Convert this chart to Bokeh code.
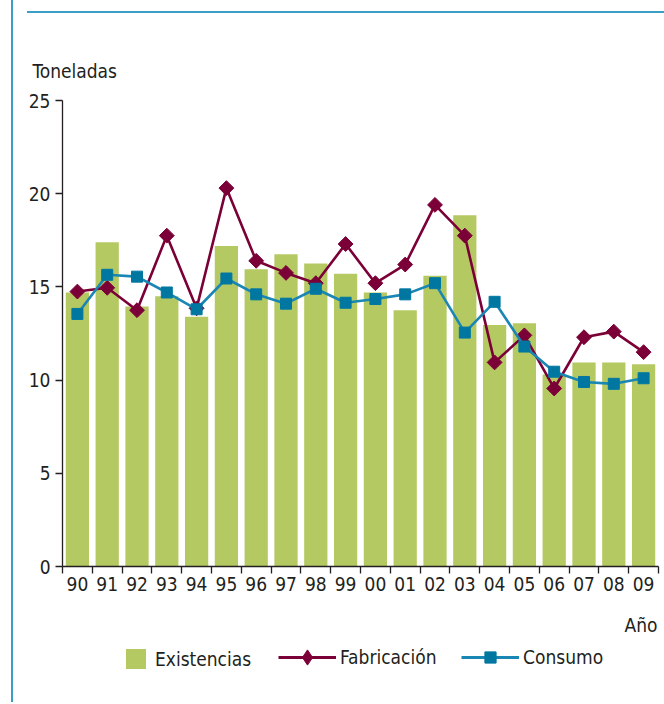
from bokeh.plotting import figure
from bokeh.models import (Range1d, FixedTicker, Label, Legend, LegendItem, Title,
                          ColumnDataSource, Spacer)
from bokeh.layouts import row, column
from bokeh.embed import file_html
from bokeh.resources import INLINE

# ---- data ----
years = ["90", "91", "92", "93", "94", "95", "96", "97", "98", "99",
         "00", "01", "02", "03", "04", "05", "06", "07", "08", "09"]
existencias = [14.7, 17.4, 13.95, 14.5, 13.4, 17.2, 15.95, 16.75, 16.25, 15.7,
               14.7, 13.75, 15.6, 18.85, 12.95, 13.05, 10.3, 10.95, 10.95, 10.85]
fabricacion = [14.75, 14.95, 13.75, 17.75, 13.85, 20.3, 16.4, 15.75, 15.2, 17.3,
               15.2, 16.2, 19.4, 17.75, 10.95, 12.4, 9.55, 12.3, 12.6, 11.5]
consumo = [13.55, 15.65, 15.55, 14.7, 13.8, 15.45, 14.6, 14.1, 14.9, 14.15,
           14.35, 14.6, 15.2, 12.55, 14.2, 11.8, 10.45, 9.9, 9.8, 10.1]
y_ticks = [0, 5, 10, 15, 20, 25]

FONT = "DejaVu Sans Condensed"
FS = "19px"
TXT = "#231f20"
GREEN = "#b5c962"
MAROON = "#7b0037"
TEAL_LINE = "#1a86b3"
TEAL_MARK = "#0077a1"
FRAME_TEAL = "#3b9ec6"

x = list(range(len(years)))
src = ColumnDataSource(dict(x=x, ex=existencias, fab=fabricacion, con=consumo))

PW = 649          # main figure width (page x 13 .. 662)
p = figure(width=PW, height=593, output_backend="svg", toolbar_location=None,
           x_range=Range1d(-0.5, len(years) - 0.5), y_range=Range1d(0, 25),
           min_border_left=49, min_border_right=4, min_border_top=87, min_border_bottom=40)
p.title = Title(text="Toneladas", align="left", offset=-30, standoff=37,
                text_font=FONT, text_font_size=FS, text_color=TXT,
                text_font_style="normal")
p.outline_line_color = None
p.xgrid.visible = False
p.ygrid.visible = False

p.vbar(x="x", top="ex", width=0.78, bottom=0, source=src,
       fill_color=GREEN, line_color=None)
p.line("x", "fab", source=src, line_color=MAROON, line_width=2.6)
p.scatter("x", "fab", source=src, marker="square", size=10.5, angle=0.785398,
          fill_color=MAROON, line_color=MAROON)
p.line("x", "con", source=src, line_color=TEAL_LINE, line_width=2.6)
p.scatter("x", "con", source=src, marker="square", size=11,
          fill_color=TEAL_MARK, line_color=TEAL_MARK)

# x axis: labels at category centres, tick marks at category edges
xa = p.xaxis[0]
xa.ticker = FixedTicker(ticks=x, minor_ticks=[i - 0.5 for i in range(len(years) + 1)])
xa.major_label_overrides = {i: years[i] for i in x}
xa.major_tick_out = 0
xa.major_tick_in = 0
xa.minor_tick_out = 7
xa.minor_tick_in = 0
xa.minor_tick_line_color = TXT
xa.minor_tick_line_width = 1.3
xa.axis_line_color = TXT
xa.axis_line_width = 1.3
xa.major_label_text_font = FONT
xa.major_label_text_font_size = FS
xa.major_label_text_color = TXT
xa.major_label_standoff = 3

ya = p.yaxis[0]
ya.ticker = FixedTicker(ticks=y_ticks)
ya.major_tick_out = 7
ya.major_tick_in = 0
ya.minor_tick_out = 0
ya.minor_tick_in = 0
ya.major_tick_line_color = TXT
ya.major_tick_line_width = 1.3
ya.axis_line_color = TXT
ya.axis_line_width = 1.3
ya.major_label_text_font = FONT
ya.major_label_text_font_size = FS
ya.major_label_text_color = TXT
ya.major_label_standoff = 5

# ---- legend strip (own figure; frame aligned with main frame: page x 62..658, y 606..702)
q = figure(width=PW, height=96, output_backend="svg", toolbar_location=None,
           x_range=Range1d(62, 658), y_range=Range1d(702, 606),
           min_border_left=49, min_border_right=4, min_border_top=0, min_border_bottom=0,
           x_axis_type=None, y_axis_type=None)
q.outline_line_color = None
q.xgrid.visible = False
q.ygrid.visible = False
dummy = ColumnDataSource(dict(x=[-5000], y=[-5000]))
lg_bar = q.vbar(x="x", top="y", width=1, source=dummy, fill_color=GREEN, line_color=None)
lg_fl = q.line("x", "y", source=dummy, line_color=MAROON, line_width=2.8)
lg_fm = q.scatter("x", "y", source=dummy, marker="diamond", size=12,
                  fill_color=MAROON, line_color=MAROON)
lg_cl = q.line("x", "y", source=dummy, line_color=TEAL_LINE, line_width=2.8)
lg_cm = q.scatter("x", "y", source=dummy, marker="square", size=11,
                  fill_color=TEAL_MARK, line_color=TEAL_MARK)


def mk_legend(label, renderers, loc, gw, gh, standoff):
    lg = Legend(items=[LegendItem(label=label, renderers=renderers)], location=loc,
                orientation="horizontal", glyph_width=gw, glyph_height=gh,
                label_standoff=standoff, padding=0, margin=0, spacing=0,
                border_line_color=None, background_fill_alpha=0,
                label_text_font=FONT, label_text_font_size=FS,
                label_text_color=TXT, label_height=gh)
    q.add_layout(lg, "center")


mk_legend("Existencias", [lg_bar], (61, 31), 25, 25, 7)
mk_legend("Fabricación", [lg_fl, lg_fm], (216, 26), 58, 38, 4)
mk_legend("Consumo", [lg_cl, lg_cm], (399, 31), 58, 28, 4)

q.add_layout(Label(x=657, y=624, text="Año", text_font=FONT, text_font_size=FS,
                   text_color=TXT, text_baseline="alphabetic", text_align="right"))

# ---- decorative frame lines ----
left_line = Spacer(width=2, height=702, margin=0,
                   styles={"background-color": FRAME_TEAL})
top_line = Spacer(width=637, height=2, margin=0,
                  styles={"background-color": FRAME_TEAL})

layout = row(
    Spacer(width=11, height=10, margin=0),
    left_line,
    column(
        Spacer(width=10, height=11, margin=0),
        row(Spacer(width=14, height=2, margin=0), top_line, spacing=0),
        p,
        q,
        spacing=0,
    ),
    spacing=0,
)

open("out.html", "w").write(file_html(layout, INLINE))
